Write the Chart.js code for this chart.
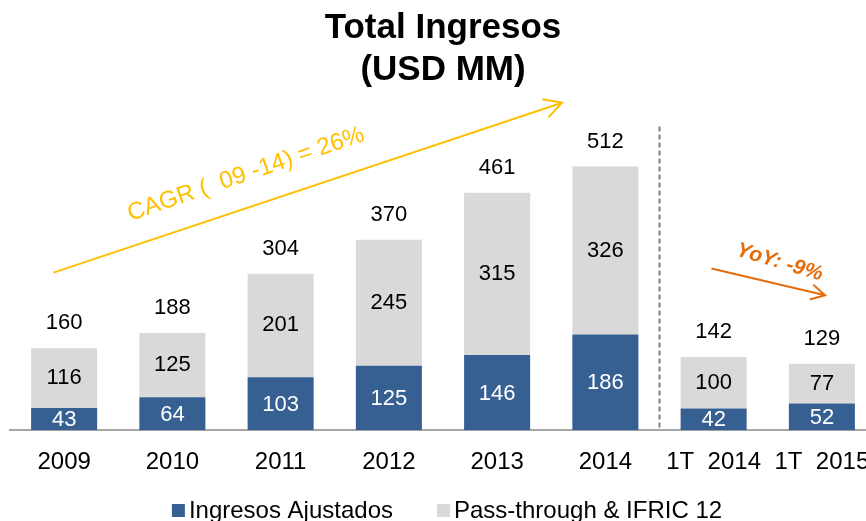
<!DOCTYPE html>
<html>
<head>
<meta charset="utf-8">
<script src="https://cdn.jsdelivr.net/npm/chart.js@4.4.1/dist/chart.umd.min.js"></script>
<style>
  html, body { margin: 0; padding: 0; overflow: hidden; background: #fff; }
  canvas { display: block; }
</style>
</head>
<body>
<canvas id="c" width="880" height="521"></canvas>
<script>
const categories = ['2009', '2010', '2011', '2012', '2013', '2014', '1T  2014', '1T  2015'];
const ajustados = [43, 64, 103, 125, 146, 186, 42, 52];
const passThrough = [116, 125, 201, 245, 315, 326, 100, 77];
const totals = [160, 188, 304, 370, 461, 512, 142, 129];
const seriesNames = ['Ingresos Ajustados', 'Pass-through & IFRIC 12'];

const FONT = '"Liberation Sans", Arial, sans-serif';
const BLUE = '#376092';
const GRAY = '#D9D9D9';

function arrow(ctx, x1, y1, x2, y2, head, color, width) {
  const a = Math.atan2(y2 - y1, x2 - x1);
  ctx.strokeStyle = color;
  ctx.lineWidth = width;
  ctx.beginPath();
  ctx.moveTo(x1, y1);
  ctx.lineTo(x2, y2);
  ctx.moveTo(x2 - head * Math.cos(a - 0.5), y2 - head * Math.sin(a - 0.5));
  ctx.lineTo(x2, y2);
  ctx.lineTo(x2 - head * Math.cos(a + 0.5), y2 - head * Math.sin(a + 0.5));
  ctx.stroke();
}

function rotatedText(ctx, text, x, y, angle, font, color) {
  ctx.save();
  ctx.translate(x, y);
  ctx.rotate(angle);
  ctx.font = font;
  ctx.fillStyle = color;
  ctx.textAlign = 'center';
  ctx.textBaseline = 'middle';
  ctx.fillText(text, 0, 0);
  ctx.restore();
}

const overlay = {
  id: 'overlay',
  afterDatasetsDraw(chart) {
    const { ctx, scales: { x, y }, chartArea } = chart;
    const blue = chart.getDatasetMeta(0).data;
    const gray = chart.getDatasetMeta(1).data;
    ctx.save();
    ctx.textAlign = 'center';
    ctx.textBaseline = 'middle';
    ctx.font = '22px ' + FONT;

    blue.forEach((b, i) => {
      const g = gray[i];
      ctx.fillStyle = '#fff';
      ctx.fillText(String(ajustados[i]), b.x, (b.y + b.base) / 2 + 1);
      ctx.fillStyle = '#000';
      ctx.fillText(String(passThrough[i]), g.x, (g.y + g.base) / 2);
      ctx.fillText(String(totals[i]), g.x, g.y - 25);
    });

    // separator between years and quarters
    const sx = (x.getPixelForValue(5) + x.getPixelForValue(6)) / 2;
    ctx.strokeStyle = '#808080';
    ctx.lineWidth = 2;
    ctx.setLineDash([5, 3]);
    ctx.beginPath();
    ctx.moveTo(sx, y.getPixelForValue(590));
    ctx.lineTo(sx, y.getPixelForValue(0));
    ctx.stroke();
    ctx.setLineDash([]);

    // CAGR arrow
    arrow(ctx, x.getPixelForValue(-0.1), y.getPixelForValue(306),
      x.getPixelForValue(4.6), y.getPixelForValue(636), 20, '#FFC000', 2);
    rotatedText(ctx, 'CAGR (  09 -14) = 26%', x.getPixelForValue(1.68), y.getPixelForValue(497),
      -0.33, '24px ' + FONT, '#FFC000');

    // YoY arrow
    arrow(ctx, x.getPixelForValue(5.98), y.getPixelForValue(314),
      x.getPixelForValue(7.03), y.getPixelForValue(262), 16, '#E46C0A', 2);
    rotatedText(ctx, 'YoY: -9%', x.getPixelForValue(6.61), y.getPixelForValue(326),
      0.29, 'italic bold 21px ' + FONT, '#E46C0A');

    // legend
    ctx.font = '24px ' + FONT;
    ctx.textAlign = 'left';
    const box = 13, gapText = 4, gapItem = 44;
    const w0 = ctx.measureText(seriesNames[0]).width;
    const w1 = ctx.measureText(seriesNames[1]).width;
    const total = box + gapText + w0 + gapItem + box + gapText + w1;
    let lx = (chartArea.left + chartArea.right) / 2 - total / 2 + 4;
    const ly = 510;
    [[BLUE, seriesNames[0], w0], [GRAY, seriesNames[1], w1]].forEach(([c, t, w]) => {
      ctx.fillStyle = c;
      ctx.fillRect(lx, ly - 6, box, box);
      ctx.fillStyle = '#000';
      ctx.fillText(t, lx + box + gapText, ly + 1);
      lx += box + gapText + w + gapItem;
    });
    ctx.restore();
  }
};

new Chart(document.getElementById('c'), {
  type: 'bar',
  data: {
    labels: categories,
    datasets: [
      { label: seriesNames[0], data: ajustados, backgroundColor: BLUE },
      { label: seriesNames[1], data: passThrough, backgroundColor: GRAY }
    ]
  },
  options: {
    responsive: false,
    animation: false,
    devicePixelRatio: 1,
    datasets: { bar: { categoryPercentage: 1, barPercentage: 0.61 } },
    layout: { padding: { left: 10, right: 4, bottom: 26 } },
    scales: {
      x: {
        stacked: true,
        grid: { display: false, drawTicks: false },
        border: { display: true, color: '#A6A6A6', width: 2 },
        ticks: { color: '#000', font: { family: FONT, size: 24 }, padding: 18, maxRotation: 0, autoSkip: false },
        // the last label runs off the edge in the original, so no extra room for it
        afterFit(scale) {
          scale.paddingLeft = 0;
          scale.paddingRight = 0;
        }
      },
      y: {
        stacked: true,
        display: false,
        min: 0,
        max: 620
      }
    },
    plugins: {
      legend: { display: false },
      tooltip: { enabled: false },
      title: {
        display: true,
        text: ['Total Ingresos', '(USD MM)'],
        color: '#000',
        font: { family: FONT, size: 35, weight: 'bold', lineHeight: 1.2 },
        padding: { top: 7, bottom: 20 }
      }
    }
  },
  plugins: [overlay]
});
</script>
</body>
</html>
